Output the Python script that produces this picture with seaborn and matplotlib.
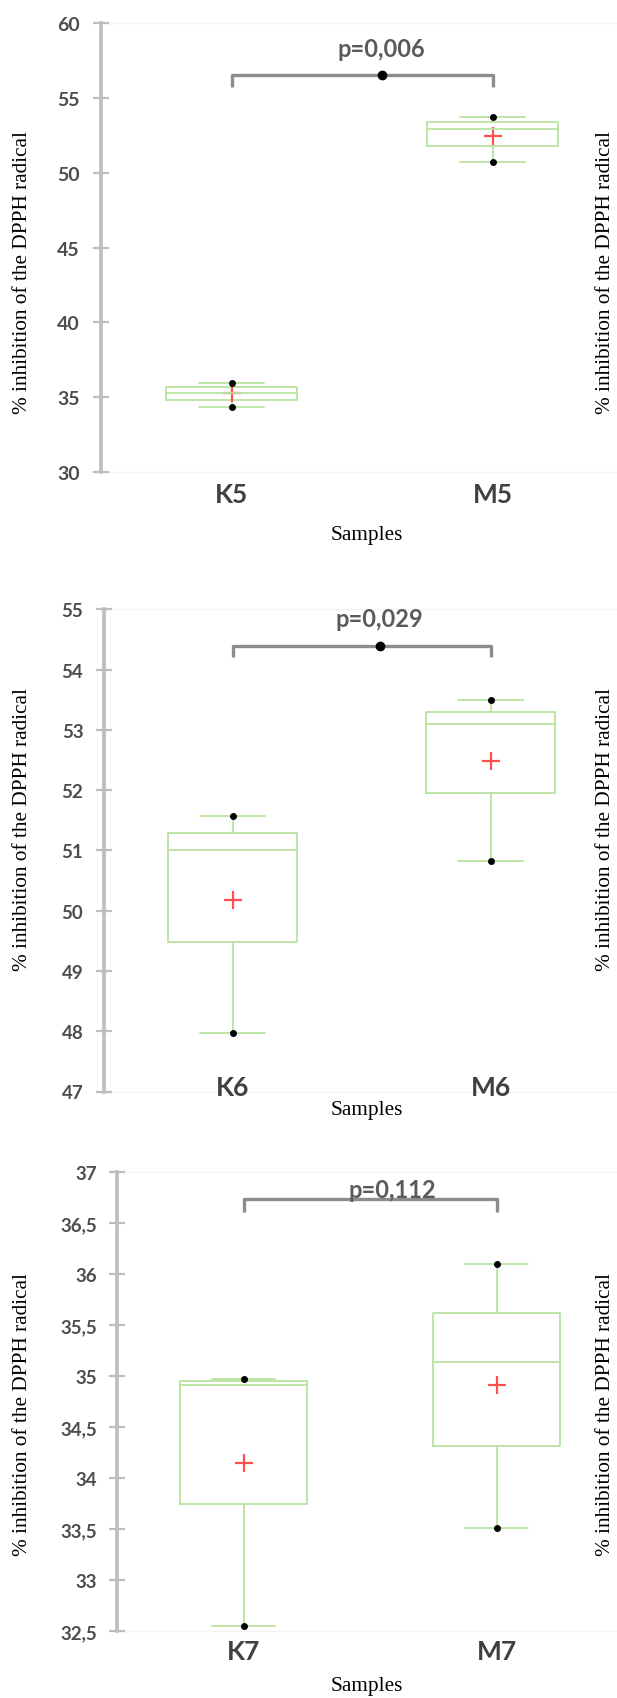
import numpy as np
import pandas as pd
import matplotlib.pyplot as plt
import seaborn as sns
from matplotlib.ticker import FuncFormatter

# DATA (box = min / Q1 / median / Q3 / max, + mean)

samples_5 = ["K5", "M5"]
min_5 = [34.31, 50.71]
q1_5 = [34.82, 51.75]
median_5 = [35.25, 52.91]
q3_5 = [35.65, 53.38]
max_5 = [35.93, 53.69]
mean_5 = [35.27, 52.42]
yticks_5 = [30, 35, 40, 45, 50, 55, 60]
pval_5 = "p=0,006"
bracket_5 = [55.75, 56.53]
ptext_5 = [0.575, 58.3]

samples_6 = ["K6", "M6"]
min_6 = [47.97, 50.82]
q1_6 = [49.48, 51.95]
median_6 = [51.00, 53.10]
q3_6 = [51.29, 53.30]
max_6 = [51.57, 53.50]
mean_6 = [50.18, 52.49]
yticks_6 = [47, 48, 49, 50, 51, 52, 53, 54, 55]
pval_6 = "p=0,029"
bracket_6 = [54.21, 54.40]
ptext_6 = [0.57, 54.85]

samples_7 = ["K7", "M7"]
min_7 = [32.55, 33.51]
q1_7 = [33.74, 34.31]
median_7 = [34.91, 35.14]
q3_7 = [34.95, 35.62]
max_7 = [34.97, 36.10]
mean_7 = [34.15, 34.91]
yticks_7 = [32.5, 33, 33.5, 34, 34.5, 35, 35.5, 36, 36.5, 37]
pval_7 = "p=0,112"
bracket_7 = [36.61, 36.73]
ptext_7 = [0.59, 36.83]

YLABEL = "% inhibition of the DPPH radical"
XLABEL = "Samples"

# STYLE

W, H = 617, 1699
GREEN = "#b9e3a0"
RED = "#ff5050"
AXIS_GREY = "#bdbdbd"
TICK_TXT = "#4d4d4d"
SERIF = ["Liberation Serif", "DejaVu Serif"]
SANS = ["Lato", "Open Sans", "DejaVu Sans"]

sns.set_theme(style="white")
plt.rcParams["font.family"] = SANS


def px_axes(fig, left, right, top, bottom):
    """Axes placed in pixel coords (origin top-left)."""
    return fig.add_axes([left / W, 1 - bottom / H, (right - left) / W, (bottom - top) / H])


def draw_panel(ax, samples, mins, q1, med, q3, maxs, means, yticks,
               pval, bracket, ptext, show_dot, tick_pad, cat_pad, tick_fs):
    df = pd.DataFrame({
        "sample": np.repeat(samples, 5),
        "value": np.ravel(np.column_stack([mins, q1, med, q3, maxs])),
    })
    sns.boxplot(data=df, x="sample", y="value", order=samples, whis=(0, 100),
                width=0.5, fill=False, color=GREEN, linewidth=1.3,
                showfliers=False, ax=ax)
    # extremes as black dots
    sns.stripplot(x=samples + samples, y=list(mins) + list(maxs), order=samples,
                  jitter=False, color="black", size=5, ax=ax)
    # mean as red cross
    sns.pointplot(x=samples, y=means, order=samples, linestyle="none",
                  marker="+", markersize=13, markeredgewidth=1.6,
                  color=RED, errorbar=None, ax=ax)

    # significance bracket
    ax.plot([0, 0, 1, 1], [bracket[0], bracket[1], bracket[1], bracket[0]],
            color="#8c8c8c", lw=2.4, solid_capstyle="butt", zorder=3)
    if show_dot:
        ax.plot(ptext[0], bracket[1], "o", color="black", ms=6, zorder=4)
    ax.text(ptext[0], ptext[1], pval, ha="center", va="center",
            fontsize=17, color="#5a5a5a", family=SANS, fontweight="bold")

    ax.set_xlim(-0.5, 1.5)
    ax.set_ylim(yticks[0], yticks[-1])
    ax.set_yticks(yticks)
    ax.yaxis.set_major_formatter(FuncFormatter(lambda v, _: f"{v:g}".replace(".", ",")))
    ax.set_xlabel("")
    ax.set_ylabel("")

    for side in ["top", "bottom"]:
        ax.spines[side].set_color("#f3f3f3")
        ax.spines[side].set_linewidth(1)
        ax.spines[side].set_zorder(0.5)
    ax.spines["right"].set_visible(False)
    ax.spines["left"].set_color(AXIS_GREY)
    ax.spines["left"].set_linewidth(2.6)
    ax.xaxis.set_zorder(5)

    ax.tick_params(axis="y", direction="inout", length=11, width=1.6,
                   color=AXIS_GREY, pad=tick_pad, labelsize=tick_fs,
                   labelcolor=TICK_TXT, left=True)
    ax.tick_params(axis="x", length=0, pad=cat_pad, labelsize=19,
                   labelcolor="#404040")
    for lab in ax.get_yticklabels():
        lab.set_fontweight("bold")
    for lab in ax.get_xticklabels():
        lab.set_fontweight("bold")


fig = plt.figure(figsize=(W / 100, H / 100), dpi=100)

panels = [
    (px_axes(fig, 101, 623, 24, 473), samples_5, min_5, q1_5, median_5, q3_5, max_5,
     mean_5, yticks_5, pval_5, bracket_5, ptext_5, True, 10, 7, 14),
    (px_axes(fig, 103.5, 619.5, 610.4, 1092.5), samples_6, min_6, q1_6, median_6, q3_6,
     max_6, mean_6, yticks_6, pval_6, bracket_6, ptext_6, True, 9, -12, 13.5),
    (px_axes(fig, 117.2, 623, 1172.8, 1632), samples_7, min_7, q1_7, median_7, q3_7,
     max_7, mean_7, yticks_7, pval_7, bracket_7, ptext_7, False, 9, 6, 13.5),
]
for args in panels:
    draw_panel(*args)

# axis titles (serif, as in the source figure) incl. neighbour panel's cut label
label_rows = [(273, 536), (830, 1111), (1415, 1687)]
for ylab_y, xlab_y in label_rows:
    fig.text(23 / W, 1 - ylab_y / H, YLABEL, rotation=90, ha="center", va="center",
             fontsize=15.3, family=SERIF, color="black")
    fig.text(606 / W, 1 - ylab_y / H, YLABEL, rotation=90, ha="center", va="center",
             fontsize=15.3, family=SERIF, color="black")
    fig.text(367 / W, 1 - xlab_y / H, XLABEL, ha="center", va="center",
             fontsize=15.3, family=SERIF, color="black")

fig.savefig("out.png", dpi=100, facecolor="white")
plt.close()
